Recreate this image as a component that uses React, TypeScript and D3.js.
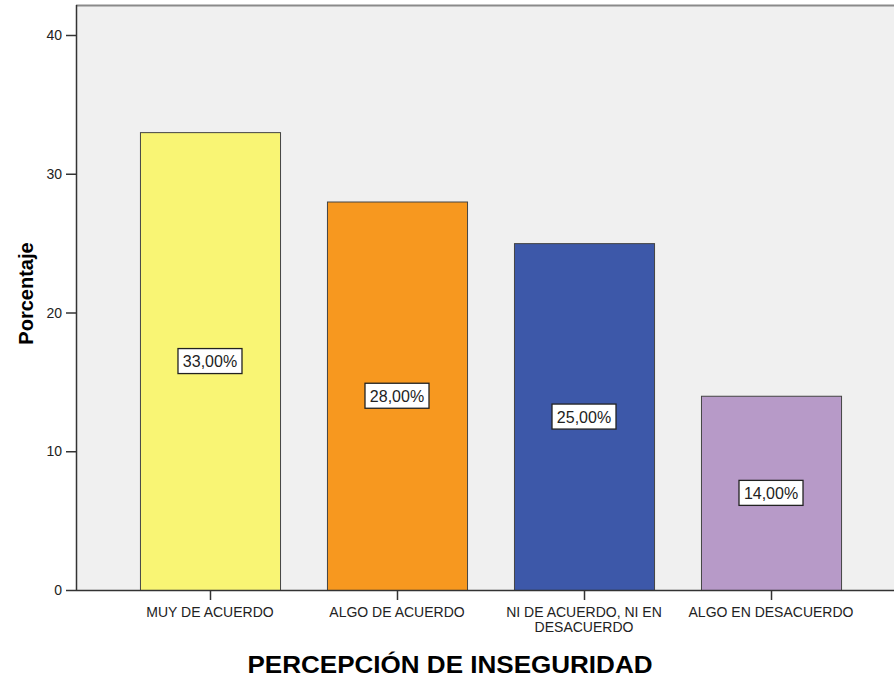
import React from "react";
import * as d3 from "d3";

const categories = ["MUY DE ACUERDO", "ALGO DE ACUERDO", "NI DE ACUERDO, NI EN DESACUERDO", "ALGO EN DESACUERDO"];
const categoryLines = [["MUY DE ACUERDO"], ["ALGO DE ACUERDO"], ["NI DE ACUERDO, NI EN", "DESACUERDO"], ["ALGO EN DESACUERDO"]];
const values = [33, 28, 25, 14];
const colors = ["#f9f574", "#f7981f", "#3d58a9", "#b79ac8"];
const yTicks = [0, 10, 20, 30, 40];
const yTitle = "Porcentaje";
const xTitle = "PERCEPCIÓN DE INSEGURIDAD";

const W = 894;
const H = 678;
const plotLeft = 76;
const plotRight = 905;
const plotTop = 5;
const plotBottom = 590;

export default function App() {
  const y = d3.scaleLinear().domain([0, 40]).range([plotBottom, 35]);
  const x = d3
    .scaleBand<string>()
    .domain(categories)
    .range([plotLeft, plotRight])
    .paddingInner(0.251)
    .paddingOuter(0.342);
  const font = "'Liberation Sans', Arial, sans-serif";
  const fmt = (v: number) => v.toFixed(2).replace(".", ",") + "%";

  return (
    <svg width={W} height={H} style={{ position: "absolute", left: 0, top: 0, background: "#fff" }} fontFamily={font}>
      <rect x={plotLeft} y={plotTop} width={plotRight - plotLeft} height={plotBottom - plotTop} fill="#f0f0f0" />
      <line x1={plotLeft} x2={plotRight} y1={plotTop + 0.5} y2={plotTop + 0.5} stroke="#8a8a8a" strokeWidth={2} />
      {categories.map((c, i) => (
        <rect
          key={c}
          x={(x(c) as number) + 0.5}
          y={y(values[i]) + 0.5}
          width={x.bandwidth()}
          height={plotBottom - y(values[i])}
          fill={colors[i]}
          stroke="#444"
          strokeWidth={1}
        />
      ))}
      <line x1={plotLeft + 0.5} x2={plotLeft + 0.5} y1={plotTop} y2={plotBottom + 0.5} stroke="#333" strokeWidth={1.5} />
      <line x1={plotLeft} x2={plotRight} y1={plotBottom + 0.5} y2={plotBottom + 0.5} stroke="#333" strokeWidth={1.5} />
      {yTicks.map((t) => (
        <g key={t}>
          <line x1={plotLeft - 10} x2={plotLeft} y1={y(t) + 0.5} y2={y(t) + 0.5} stroke="#333" strokeWidth={1.5} />
          <text x={62} y={y(t) + 5} textAnchor="end" fontSize={14} fill="#222">
            {t}
          </text>
        </g>
      ))}
      {categories.map((c, i) => {
        const cx = (x(c) as number) + x.bandwidth() / 2;
        return (
          <g key={c + "t"}>
            <line x1={cx + 0.5} x2={cx + 0.5} y1={plotBottom} y2={plotBottom + 10} stroke="#333" strokeWidth={1.5} />
            {categoryLines[i].map((l, j) => (
              <text key={l} x={cx} y={617 + j * 14.5} textAnchor="middle" fontSize={14} fill="#222">
                {l}
              </text>
            ))}
          </g>
        );
      })}
      {categories.map((c, i) => {
        const cx = (x(c) as number) + x.bandwidth() / 2;
        const cy = y(values[i] / 2);
        return (
          <g key={c + "l"}>
            <rect x={cx - 32} y={cy - 12.5} width={64} height={25} fill="#fff" stroke="#222" strokeWidth={1.3} />
            <text x={cx} y={cy + 6} textAnchor="middle" fontSize={16} fill="#222">
              {fmt(values[i])}
            </text>
          </g>
        );
      })}
      <text
        transform={`translate(33, 293.5) rotate(-90)`}
        textAnchor="middle"
        fontSize={20}
        fontWeight="bold"
        fill="#000"
      >
        {yTitle}
      </text>
      <text
        x={450}
        y={673}
        textAnchor="middle"
        fontSize={24}
        fontWeight="bold"
        fill="#000"
        textLength={405}
        lengthAdjust="spacingAndGlyphs"
      >
        {xTitle}
      </text>
    </svg>
  );
}
